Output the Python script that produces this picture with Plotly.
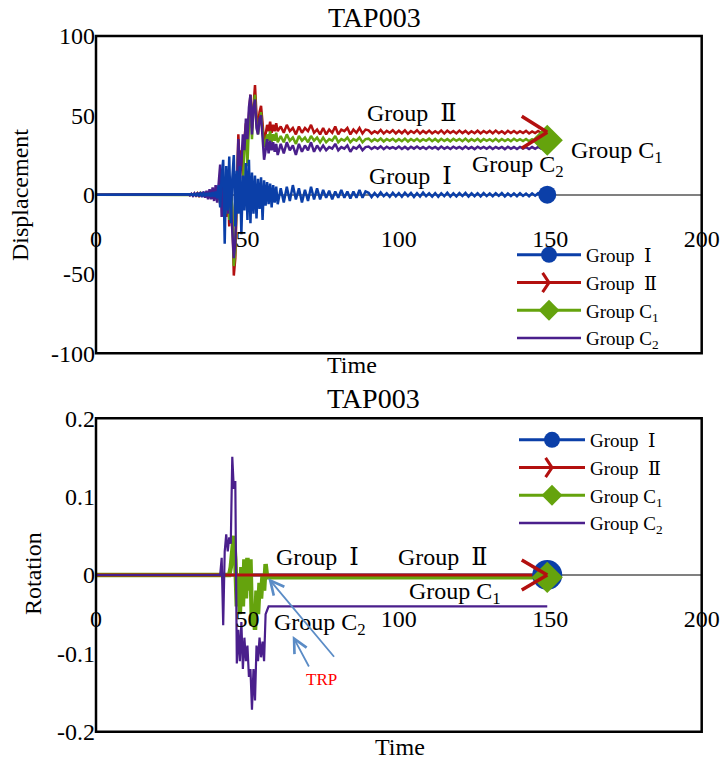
import numpy as np
import plotly.graph_objects as go

FONT = "Liberation Serif, DejaVu Serif, Times New Roman, serif"
BLUE = "#0b3fa8"
RED = "#b3100f"
GREEN = "#65a30d"
PURPLE = "#4a1f8c"
GREY = "#808080"

# ---------------- data: displacement (top chart) ----------------
t_top = np.concatenate([[0, 30], np.arange(30.5, 60.01, 0.5), np.arange(61, 149.01, 1.0)])

disp_I = [0, 0,
          0.1, -0.2, 0.2, -0.3, 0.4, -0.4, 0.5, -0.5, 0.7, -0.6,
          0.8, -0.9, 1.0, -0.8, 1.2, -1.3, 1.6, -1.4, 2.0, -2.2,
          6, -8, 12, 22, -31, 18, -10, 24, -18, 10,
          25, -20, 15, -12, 18, -25, 12, -10, 20, -16,
          22, -18, 14, -12, 12, -15, 10, -9, 11, -16,
          9, -7, 8, -6, 7, -8, 6, -5, 5, -6,
          4, -5, 5, -4, 6, -3, 4, -5, 3, -4, 5, -3, 4, -3,
          3, -2, 2.5, -3, 2, -2, 3, -2, 2, -2.5, 2, -2, 3, -2, 2,
          1.2, -1.5, 1.0, -1.2, 1.4, -1.0, 0.8, -1.4, 1.2, -1.1,
          1.0, -1.3, 1.2, -0.9, 1.1, -1.4, 0.9, -1.2, 1.3, -1.0,
          0.8, -1.2, 1.0, -1.3, 0.9, -1.0, 1.2, -1.2, 0.8, -1.1,
          1.0, -0.9, 1.1, -1.2, 0.8, -1.0, 0.9, -1.1, 1.0, -0.9,
          0.8, -1.0, 0.9, -0.8, 1.0, -1.1, 0.7, -0.9, 0.8, -1.0,
          0.9, -0.8, 0.7, -1.0, 0.8, -0.7, 0.9, -0.8, 0.5, 0.0]

disp_II = [0, 0,
           0.2, -0.3, 0.4, -0.4, 0.6, -0.6, 0.8, -0.7, 1.0, -0.9,
           1.3, -1.2, 1.6, -1.5, 2.0, -2.2, 2.8, -2.5, 3.5, -3.5,
           5, -6, 15, -10, 8, -14, 10, -20, 5, -10,
           -51, -40, 10, 38, 15, 28, 10, 35, 45, 30,
           50, 63, 42, 58, 69, 50, 43, 52, 56, 45,
           33, 38, 44, 40, 46, 39, 44, 40, 45, 40,
           43, 39, 44, 40, 42, 38, 43, 39, 42, 40, 44, 39, 41, 38,
           42, 38, 41, 39, 43, 38, 41, 40, 42, 38, 41, 39, 42, 38.5, 41,
           40.5, 38.5, 40.0, 38.8, 40.8, 38.5, 40.2, 39.0, 40.6, 38.6,
           40.3, 38.7, 40.5, 38.4, 40.1, 38.9, 40.6, 38.5, 40.2, 38.8,
           40.4, 38.6, 40.0, 38.7, 40.5, 38.5, 40.3, 38.9, 40.1, 38.6,
           40.4, 38.8, 40.2, 38.5, 40.0, 38.7, 40.3, 38.6, 40.1, 38.9,
           40.2, 38.6, 40.4, 38.8, 40.0, 38.5, 40.2, 38.9, 40.1, 38.7,
           40.0, 38.8, 40.2, 38.6, 39.9, 38.8, 40.1, 38.9, 39.8, 39.3]

disp_C1 = [0, 0,
           0.2, -0.2, 0.3, -0.4, 0.5, -0.5, 0.7, -0.6, 0.9, -0.8,
           1.1, -1.0, 1.4, -1.3, 1.8, -1.8, 2.4, -2.2, 3.0, -3.0,
           4, -5, 12, -8, 6, -12, 8, -16, 3, -8,
           -45, -36, 5, 30, 10, -15, 5, 30, 40, 18,
           45, 58, 35, 55, 63, 45, 38, 47, 52, 40,
           30, 33, 38, 34, 40, 33, 38, 34, 39, 33,
           37, 33, 38, 34, 36, 32, 37, 34, 36, 33, 37, 34, 36, 33,
           36, 33, 35, 34, 37, 33, 35, 34, 36, 33, 35, 34, 36, 33, 35,
           35.3, 33.6, 35.0, 33.8, 35.4, 33.5, 35.1, 33.9, 35.2, 33.6,
           35.0, 33.7, 35.3, 33.5, 35.1, 33.8, 35.2, 33.6, 35.0, 33.9,
           35.3, 33.7, 35.1, 33.5, 35.2, 33.8, 35.0, 33.6, 35.2, 33.9,
           35.1, 33.7, 35.3, 33.6, 35.0, 33.8, 35.2, 33.5, 35.1, 33.9,
           35.0, 33.7, 35.2, 33.6, 35.1, 33.8, 35.0, 33.7, 35.2, 33.9,
           35.0, 33.8, 35.1, 33.7, 34.9, 33.8, 35.0, 33.9, 34.8, 34.3]

disp_C2 = [0, 0,
           0.3, -0.4, 0.5, -0.7, 0.8, -1.0, 1.2, -1.2, 1.6, -1.5,
           2.0, -2.0, 2.5, -3.0, 3.5, -3.0, 4.5, -4.0, 6.0, -5.0,
           8, 19, -14, 10, -8, 6, -12, 12, -5, -20,
           -40, -30, 8, 35, 12, 20, 38, 28, 48, 35,
           55, 63, 38, 55, 60, 42, 38, 48, 50, 35,
           22, 28, 35, 26, 34, 28, 33, 27, 32, 25,
           32, 26, 33, 28, 31, 25, 32, 27, 31, 28, 33, 27, 31, 28,
           31, 28, 30, 29, 32, 28, 30, 29, 31, 27, 30, 29, 31, 28, 30,
           30.3, 28.8, 30.1, 29.0, 30.4, 28.7, 30.2, 29.1, 30.0, 28.9,
           30.3, 28.8, 30.1, 28.7, 30.2, 29.0, 30.3, 28.9, 30.0, 28.8,
           30.2, 29.0, 30.1, 28.7, 30.3, 28.9, 30.0, 28.8, 30.2, 29.1,
           30.1, 28.8, 30.3, 28.9, 30.0, 28.7, 30.2, 29.0, 30.1, 28.9,
           30.2, 28.8, 30.0, 29.0, 30.1, 28.7, 30.2, 28.9, 30.0, 28.8,
           30.1, 29.0, 29.9, 28.8, 30.0, 28.9, 30.1, 29.0, 29.8, 29.5]

# ---------------- data: rotation (bottom chart) ----------------
t_bot = np.concatenate([[0, 41], np.arange(41.5, 58.01, 0.5), [149]])

rot_I = [0.0, 0.0, 0.0, 0.0, 0.0, 0.0, 0.0, 0.0, 0.0, 0.0,
         0.0, 0.0, 0.0, 0.0, 0.0, 0.0, 0.0, 0.0, 0.0, 0.0,
         0.0, 0.0, 0.0, 0.0, 0.0, 0.0, 0.0, 0.0, 0.0, 0.0,
         0.0, 0.0, 0.0, 0.0, 0.0, 0.0, 0.0]
rot_II = [0.0, 0.0, 0.0, 0.0, 0.0, 0.0, 0.0, 0.0, 0.0, 0.0,
          0.0, 0.0, 0.0, 0.0, 0.0, 0.0, 0.0, 0.0, 0.0, 0.0,
          0.0, 0.0, 0.0, 0.0, 0.0, 0.0, 0.0, 0.0, 0.0, 0.0,
          0.0, 0.0, 0.0, 0.0, 0.0, 0.0, 0.0]
rot_C1 = [0.0, 0.0, 0.0, 0.0, 0.0, 0.0, 0.0, 0.0, 0.01, 0.03,
          0.05, 0.02, -0.04, 0.0, -0.05, 0.01, -0.04, 0.02, -0.03, 0.022,
          -0.02, 0.02, -0.065, -0.04, -0.07, -0.02, -0.05, -0.01, -0.03, 0.0,
          -0.02, 0.014, -0.003, -0.003, -0.003, -0.003, -0.003]
rot_C2 = [0.0, 0.0, 0.022, -0.064, 0.03, 0.052, 0.03, 0.048, 0.04, 0.151,
          0.11, 0.12, -0.113, -0.07, -0.11, -0.06, -0.12, -0.08, -0.11, -0.09,
          -0.13, -0.12, -0.172, -0.12, -0.16, -0.09, -0.11, -0.08, -0.105, -0.085,
          -0.11, -0.05, -0.045, -0.04, -0.04, -0.04, -0.04]

x_ticks = [0, 50, 100, 150, 200]
disp_ticks = [-100, -50, 0, 50, 100]
disp_tick_text = ["-100", "-50", "0", "50", "100"]
rot_ticks = [-0.2, -0.1, 0, 0.1, 0.2]
rot_tick_text = ["-0.2", "-0.1", "0", "0.1", "0.2"]

names = ["Group\u00a0\u00a0\u2160", "Group\u00a0\u00a0\u2161", "Group C<sub>1</sub>", "Group C<sub>2</sub>"]

fig = go.Figure()

# ---- top chart lines ----
for y, c in [(disp_II, RED), (disp_C1, GREEN), (disp_C2, PURPLE), (disp_I, BLUE)]:
    fig.add_trace(go.Scatter(x=t_top, y=y, mode="lines", line=dict(color=c, width=2.5),
                             showlegend=False, xaxis="x", yaxis="y"))
fig.add_trace(go.Scatter(x=[t_top[-1]], y=[disp_I[-1]], mode="markers",
                         marker=dict(symbol="circle", size=18, color=BLUE),
                         showlegend=False, xaxis="x", yaxis="y"))
fig.add_trace(go.Scatter(x=[t_top[-1]], y=[disp_C1[-1]], mode="markers",
                         marker=dict(symbol="diamond", size=24, color=GREEN),
                         showlegend=False, xaxis="x", yaxis="y"))

# ---- bottom chart lines ----
fig.add_trace(go.Scatter(x=t_bot, y=rot_I, mode="lines", line=dict(color=BLUE, width=3),
                         showlegend=False, xaxis="x2", yaxis="y2"))
fig.add_trace(go.Scatter(x=t_bot, y=rot_C1, mode="lines", line=dict(color=GREEN, width=4.5),
                         showlegend=False, xaxis="x2", yaxis="y2"))
fig.add_trace(go.Scatter(x=t_bot, y=rot_II, mode="lines", line=dict(color=RED, width=3),
                         showlegend=False, xaxis="x2", yaxis="y2"))
fig.add_trace(go.Scatter(x=t_bot, y=rot_C2, mode="lines", line=dict(color=PURPLE, width=2.2),
                         showlegend=False, xaxis="x2", yaxis="y2"))

# open chevron (">") at the end of each Group II line: two strokes meeting at the last point
for xx, yy, xr, yr, half in [(t_top[-1], disp_II[-1], "x", "y", 17),
                             (t_bot[-1], rot_II[-1], "x2", "y2", 16)]:
    for sgn in (-1, 1):
        fig.add_annotation(x=xx, y=yy, xref=xr, yref=yr, ax=-27, ay=sgn * half,
                           text="", showarrow=True, arrowhead=0, arrowwidth=3.5,
                           arrowcolor=RED, standoff=0, startstandoff=0)

fig.add_trace(go.Scatter(x=[t_bot[-1]], y=[rot_I[-1]], mode="markers",
                         marker=dict(symbol="circle", size=30, color=BLUE),
                         showlegend=False, xaxis="x2", yaxis="y2"))
fig.add_trace(go.Scatter(x=[t_bot[-1]], y=[rot_C1[-1]], mode="markers",
                         marker=dict(symbol="diamond", size=24, color=GREEN),
                         showlegend=False, xaxis="x2", yaxis="y2"))

# ---- legend entries ----
def legend_entries(leg, xa, ya):
    fig.add_trace(go.Scatter(x=[None], y=[None], mode="lines+markers", name=names[0],
                             line=dict(color=BLUE, width=3),
                             marker=dict(symbol="circle", size=16, color=BLUE),
                             legend=leg, xaxis=xa, yaxis=ya))
    fig.add_trace(go.Scatter(x=[None], y=[None], mode="lines+markers", name=names[1],
                             line=dict(color=RED, width=3),
                             marker=dict(symbol="y-right", size=16, color=RED,
                                         line=dict(color=RED, width=3)),
                             legend=leg, xaxis=xa, yaxis=ya))
    fig.add_trace(go.Scatter(x=[None], y=[None], mode="lines+markers", name=names[2],
                             line=dict(color=GREEN, width=3),
                             marker=dict(symbol="diamond", size=16, color=GREEN),
                             legend=leg, xaxis=xa, yaxis=ya))
    fig.add_trace(go.Scatter(x=[None], y=[None], mode="lines", name=names[3],
                             line=dict(color=PURPLE, width=2.5),
                             legend=leg, xaxis=xa, yaxis=ya))

legend_entries("legend", "x", "y")
legend_entries("legend2", "x2", "y2")

XD = [96 / 720, 701.7 / 720]
YD_TOP = [1 - 353.3 / 760, 1 - 36 / 760]
YD_BOT = [1 - 731.7 / 760, 1 - 418.3 / 760]

tick_font = dict(family=FONT, size=24, color="black")
common_x = dict(range=[0, 200], tickvals=x_ticks, showgrid=False, zeroline=False,
                showline=False, ticks="", tickfont=tick_font, automargin=False, domain=XD,
                anchor="free")
common_y = dict(showgrid=False, zeroline=True, zerolinecolor=GREY, zerolinewidth=2,
                showline=False, ticks="", tickfont=tick_font, automargin=False)

leg_font = dict(family=FONT, size=19, color="black")
fig.update_layout(
    width=720, height=760,
    margin=dict(l=0, r=0, t=0, b=0),
    paper_bgcolor="white", plot_bgcolor="white",
    font=dict(family=FONT, color="black"),
    showlegend=True,
    xaxis=dict(**common_x, position=1 - 222 / 760),
    yaxis=dict(**common_y, domain=YD_TOP, range=[-100, 100], tickvals=disp_ticks,
               ticktext=disp_tick_text),
    xaxis2=dict(**common_x, position=1 - 602 / 760),
    yaxis2=dict(**common_y, domain=YD_BOT, range=[-0.2, 0.2], tickvals=rot_ticks,
                ticktext=rot_tick_text, anchor="x2"),
    legend=dict(x=512 / 720, y=1 - 357 / 760, xanchor="left", yanchor="bottom",
                font=leg_font, bgcolor="rgba(0,0,0,0)", itemwidth=64, tracegroupgap=0),
    legend2=dict(x=514 / 720, y=1 - 421 / 760, xanchor="left", yanchor="top",
                 font=leg_font, bgcolor="rgba(0,0,0,0)", itemwidth=66, tracegroupgap=0),
)

# frames
for xr, yr in [("x domain", "y domain"), ("x2 domain", "y2 domain")]:
    fig.add_shape(type="rect", xref=xr, yref=yr, x0=0, x1=1, y0=0, y1=1,
                  line=dict(color="black", width=2.5), layer="above")

def txt(text, x, y, size=24, xref="paper", yref="paper", color="black", angle=0):
    fig.add_annotation(text=text, x=x, y=y, xref=xref, yref=yref, showarrow=False,
                       xanchor="center", yanchor="middle", textangle=angle,
                       font=dict(family=FONT, size=size, color=color))

# titles and axis titles
txt("TAP003", 374 / 720, 1 - 18 / 760, size=28)
txt("TAP003", 373 / 720, 1 - 398 / 760, size=28)
txt("Displacement", 20 / 720, 1 - 195 / 760, angle=-90)
txt("Rotation", 33 / 720, 1 - 574 / 760, angle=-90)
txt("Time", 352 / 720, 1 - 365 / 760)
txt("Time", 400 / 720, 1 - 747 / 760)

# in-plot labels (top)
txt(names[1], 104.3, 51.7, xref="x", yref="y")
txt(names[0], 104, 11.5, xref="x", yref="y")
txt(names[3], 139.3, 17.8, xref="x", yref="y")
txt(names[2], 172, 27, xref="x", yref="y")
# in-plot labels (bottom)
txt(names[0], 73.1, 0.0234, xref="x2", yref="y2")
txt(names[1], 114.7, 0.0234, xref="x2", yref="y2")
txt(names[2], 118.5, -0.0234, xref="x2", yref="y2")
txt(names[3], 74.1, -0.0625, xref="x2", yref="y2")
txt("TRP", 74.6, -0.134, size=17, xref="x2", yref="y2", color="#ff0000")

# TRP pointer arrows
ARROW_BLUE = "#5b8cc6"
fig.add_annotation(x=64.95, y=-0.0779, xref="x2", yref="y2", ax=17, ay=32, text="",
                   showarrow=True, arrowhead=5, arrowsize=1.5, arrowwidth=1.8,
                   arrowcolor=ARROW_BLUE)
fig.add_annotation(x=56.9, y=-0.0042, xref="x2", yref="y2", ax=67, ay=80, text="",
                   showarrow=True, arrowhead=5, arrowsize=1.5, arrowwidth=1.8,
                   arrowcolor=ARROW_BLUE)

fig.write_html("out.html", config={"displayModeBar": False},
               post_script="document.body.style.margin='0';")
